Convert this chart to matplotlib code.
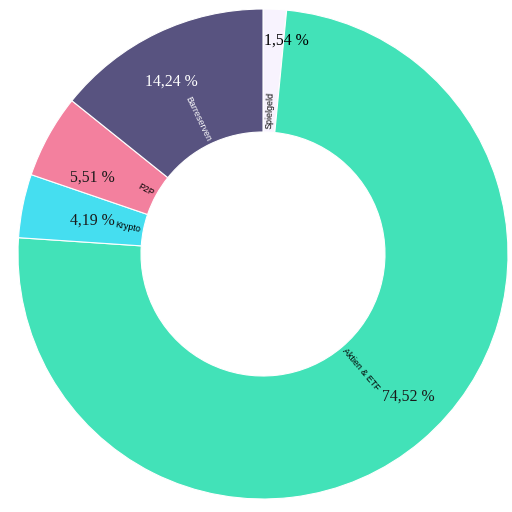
import numpy as np
import matplotlib
matplotlib.use("Agg")
import matplotlib.pyplot as plt

# Portfolio split, clockwise from 12 o'clock
categories = ["Spielgeld", "Aktien & ETF", "Krypto", "P2P", "Barreserven"]
shares = [1.54, 74.52, 4.19, 5.51, 14.24]
pct_labels = ["1,54 %", "74,52 %", "4,19 %", "5,51 %", "14,24 %"]
colors = ["#F8F3FE", "#42E2B8", "#45DEF0", "#F3809E", "#585380"]
name_colors = ["black", "black", "black", "black", "white"]
pct_colors = ["black", "#1a1a1a", "#1a1a1a", "#1a1a1a", "white"]

# layout (pixels): ring geometry and where the percent labels sit
cx, cy = 263, 258
R, r_in = 245, 122
pct_r = [215, 204, 174, 187, 195]
pct_shift = [-3.6, 5.3, 0.2, 4.8, 2.3]

fig = plt.figure(figsize=(5.12, 5.12), dpi=100)
ax = fig.add_axes([0, 0, 1, 1])

wedges, _ = ax.pie(shares, colors=colors, startangle=90, counterclock=False,
                   center=(cx, cy), radius=R,
                   wedgeprops=dict(width=R - r_in, edgecolor="white", linewidth=0.8))

# pie() resets the limits, so set pixel coordinates afterwards
ax.set_xlim(0, 512)
ax.set_ylim(0, 512)
ax.set_aspect("equal")
ax.axis("off")

for i, w in enumerate(wedges):
    mid = (w.theta1 + w.theta2) / 2.0
    rad = np.deg2rad(mid)
    # category name along the radius, starting at the hole
    x = cx + (r_in + 3) * np.cos(rad)
    y = cy + (r_in + 3) * np.sin(rad)
    if np.cos(rad) >= 0:
        rot, ha = mid, "left"
    else:
        rot, ha = mid - 180, "right"
    ax.text(x, y, categories[i], rotation=rot, rotation_mode="anchor",
            ha=ha, va="center", fontsize=6.4, family="Liberation Sans",
            color=name_colors[i])
    # percentage
    a = np.deg2rad(mid + pct_shift[i])
    ax.text(cx + pct_r[i] * np.cos(a), cy + pct_r[i] * np.sin(a), pct_labels[i],
            ha="center", va="center", fontsize=11.3, family="Liberation Serif",
            color=pct_colors[i])

fig.savefig("out.png", dpi=100, facecolor="white")
